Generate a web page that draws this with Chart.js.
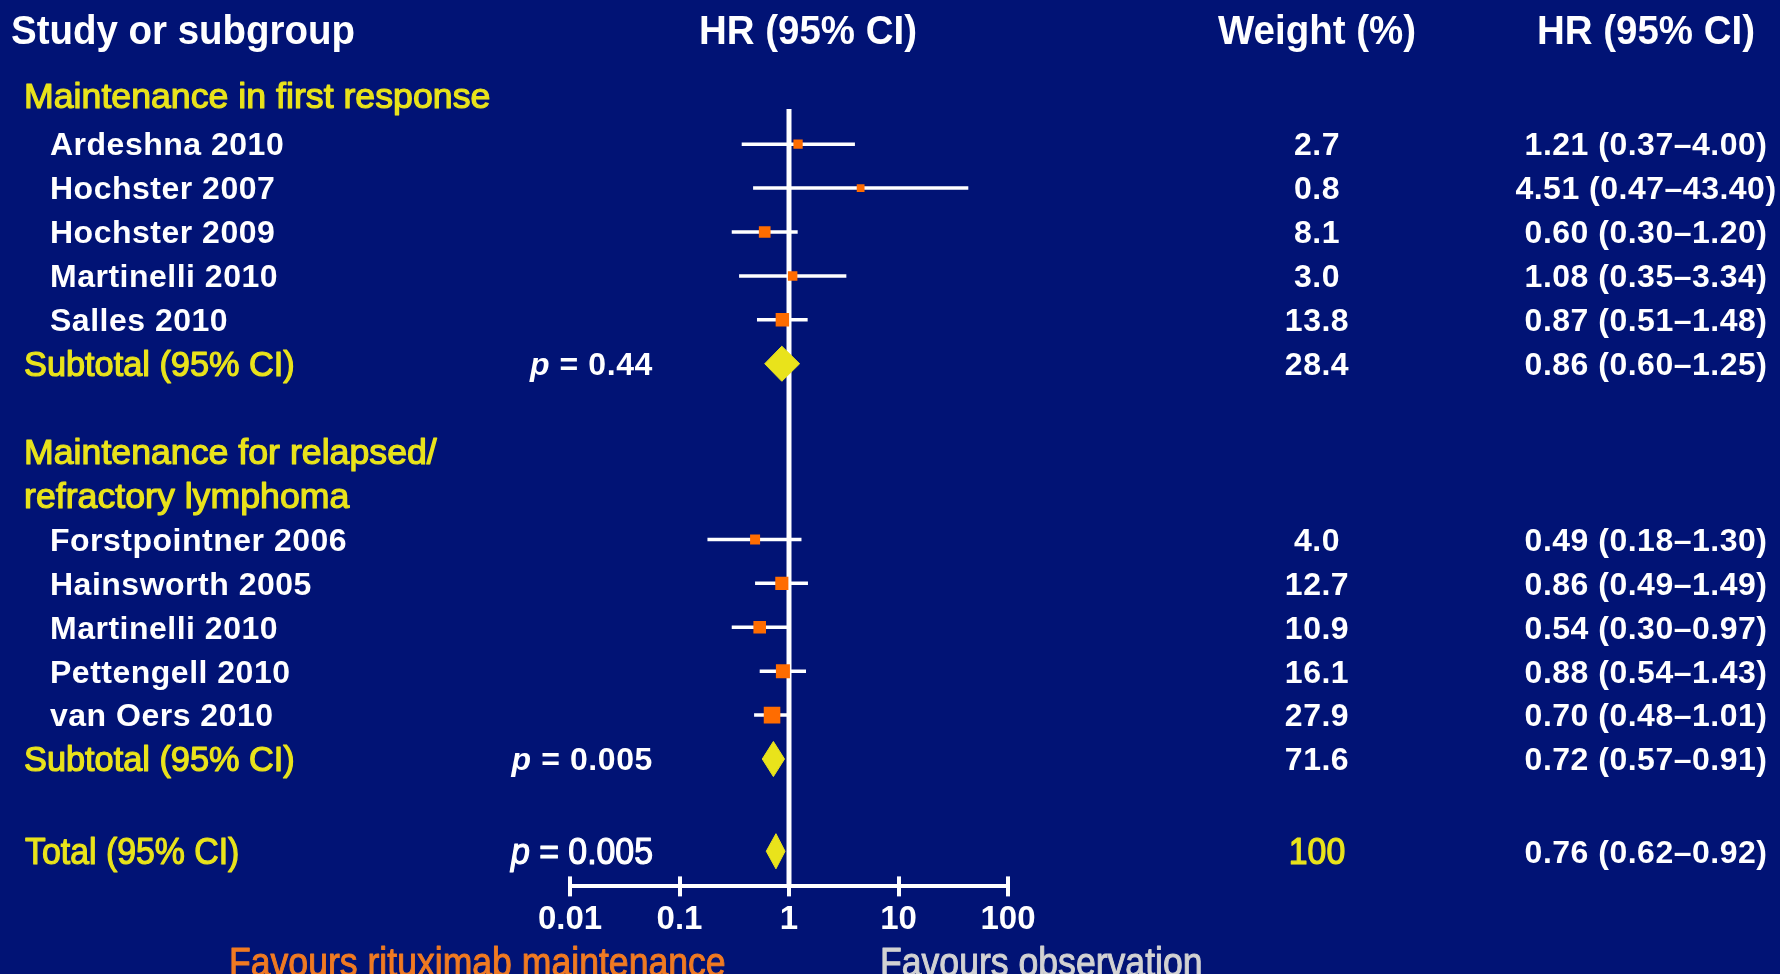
<!DOCTYPE html>
<html><head><meta charset="utf-8">
<script src="https://cdn.jsdelivr.net/npm/chart.js@4.4.1/dist/chart.umd.min.js"></script>
<style>html,body{margin:0;padding:0;background:#011375;}canvas{display:block}</style>
</head><body>
<canvas id="c" width="1780" height="974"></canvas>
<script>
// ---------- DATA ----------
const studies = ['Ardeshna 2010','Hochster 2007','Hochster 2009','Martinelli 2010','Salles 2010',
                 'Forstpointner 2006','Hainsworth 2005','Martinelli 2010','Pettengell 2010','van Oers 2010'];
const studyGroup = [0,0,0,0,0,1,1,1,1,1];
const hr      = [1.21, 4.51, 0.60, 1.08, 0.87, 0.49, 0.86, 0.54, 0.88, 0.70];
const ciLow   = [0.37, 0.47, 0.30, 0.35, 0.51, 0.18, 0.49, 0.30, 0.54, 0.48];
const ciHigh  = [4.00, 43.40, 1.20, 3.34, 1.48, 1.30, 1.49, 0.97, 1.43, 1.01];
const weights = [2.7, 0.8, 8.1, 3.0, 13.8, 4.0, 12.7, 10.9, 16.1, 27.9];
const hrText  = ['1.21 (0.37–4.00)','4.51 (0.47–43.40)','0.60 (0.30–1.20)','1.08 (0.35–3.34)','0.87 (0.51–1.48)',
                 '0.49 (0.18–1.30)','0.86 (0.49–1.49)','0.54 (0.30–0.97)','0.88 (0.54–1.43)','0.70 (0.48–1.01)'];
const weightText = ['2.7','0.8','8.1','3.0','13.8','4.0','12.7','10.9','16.1','27.9'];

const groupNames = [['Maintenance in first response'], ['Maintenance for relapsed/','refractory lymphoma']];
const subtotalHR = [0.86, 0.72];
const subtotalLow = [0.60, 0.57];
const subtotalHigh = [1.25, 0.91];
const subtotalWeightText = ['28.4','71.6'];
const subtotalHRText = ['0.86 (0.60–1.25)','0.72 (0.57–0.91)'];
const subtotalP = ['0.44','0.005'];

const totalHR = 0.76, totalLow = 0.62, totalHigh = 0.92;
const totalWeightText = '100';
const totalHRText = '0.76 (0.62–0.92)';
const totalP = '0.005';

const tickValues = [0.01, 0.1, 1, 10, 100];
const tickLabels = ['0.01','0.1','1','10','100'];

const headers = ['Study or subgroup','HR (95% CI)','Weight (%)','HR (95% CI)'];
const favoursLeft = 'Favours rituximab maintenance';
const favoursRight = 'Favours observation';

// ---------- ROW LAYOUT (row order, each row one unit tall) ----------
const rows = [];
groupNames.forEach((g, gi) => {
  g.forEach(t => rows.push({kind:'group', text:t}));
  studies.forEach((s, i) => { if (studyGroup[i] === gi) rows.push({kind:'study', i}); });
  rows.push({kind:'subtotal', g:gi});
  rows.push({kind:'blank', h: gi === groupNames.length - 1 ? 1.1 : 1});
});
rows.push({kind:'total'});
let acc = 0;
rows.forEach(r => { r.pos = acc; acc += (r.h || 1); });
const posOf = (pred) => rows.find(pred).pos;

const Y_MIN = 0.2, Y_MAX = 17.9;

// ---------- STYLES ----------
const FONT = '"Liberation Sans", Arial, sans-serif';
const YELLOW = '#e9e31b';
const ORANGE = '#ff6c00';
const ST = {
  header:  {size:41, weight:'bold',   color:'#ffffff', sx:0.938, ls:0},
  group:   {size:35, weight:'normal', color:YELLOW,    sx:1.02,  ls:0, stroke:1.2},
  subtot:  {size:35, weight:'normal', color:YELLOW,    sx:0.98,  ls:0, stroke:1.2},
  study:   {size:32, weight:'bold',   color:'#ffffff', sx:1.0,   ls:0.5},
  num:     {size:32, weight:'bold',   color:'#ffffff', sx:1.0,   ls:0.5},
  pval:    {size:32, weight:'bold',   color:'#ffffff', sx:1.0,   ls:0.6},
  totalY:  {size:36, weight:'normal', color:YELLOW,    sx:0.94,  ls:0, stroke:1.2},
  totalP:  {size:36, weight:'normal', color:'#ffffff', sx:0.94,  ls:0, stroke:1.2},
  favL:    {size:40, weight:'normal', color:'#f07a22', sx:0.89,  ls:0, stroke:1.0},
  favR:    {size:40, weight:'normal', color:'#d2d2d2', sx:0.89,  ls:0, stroke:1.0}
};
const TEXT_DY = 2.5; // optical vertical centring of row text

function fontStr(st, italic){ return (italic?'italic ':'') + st.weight + ' ' + st.size + 'px ' + FONT; }
function drawSegs(ctx, segs, x, y, st, align){
  ctx.save();
  try { ctx.letterSpacing = (st.ls||0) + 'px'; } catch(e){}
  const widths = segs.map(s => { ctx.font = fontStr(st, s.italic); return ctx.measureText(s.t).width; });
  const W = widths.reduce((a,b)=>a+b,0) * st.sx;
  const x0 = align === 'center' ? x - W/2 : align === 'right' ? x - W : x;
  ctx.translate(x0, y);
  ctx.scale(st.sx, 1);
  ctx.textAlign = 'left';
  ctx.textBaseline = 'middle';
  ctx.fillStyle = st.color;
  ctx.strokeStyle = st.color;
  ctx.lineJoin = 'round';
  let cx = 0;
  segs.forEach((s, k) => {
    ctx.font = fontStr(st, s.italic);
    ctx.fillText(s.t, cx, 0);
    if (st.stroke) { ctx.lineWidth = st.stroke; ctx.strokeText(s.t, cx, 0); }
    cx += widths[k];
  });
  ctx.restore();
}
const txt = (ctx, t, x, y, st, align) => drawSegs(ctx, [{t}], x, y, st, align);
const pSegs = (v) => [{t:'p', italic:true}, {t:' = ' + v}];

// column positions (layout)
const COL_GROUP_X = 24, COL_STUDY_X = 50, COL_P_RIGHT = 653, COL_W_C = 1317, COL_HR_C = 1646;

const textPlugin = {
  id:'forestText',
  afterDraw(chart){
    const ctx = chart.ctx;
    const ys = chart.scales.y, xs = chart.scales.x;
    txt(ctx, headers[0], 11, 33, ST.header, 'left');
    txt(ctx, headers[1], 808, 33, ST.header, 'center');
    txt(ctx, headers[2], COL_W_C, 33, ST.header, 'center');
    txt(ctx, headers[3], COL_HR_C, 33, ST.header, 'center');
    rows.forEach((r, idx) => {
      const y = ys.getPixelForValue(r.pos) + (idx === 0 ? -1.5 : TEXT_DY);
      if (r.kind === 'group') txt(ctx, r.text, COL_GROUP_X, y, ST.group, 'left');
      else if (r.kind === 'study') {
        txt(ctx, studies[r.i], COL_STUDY_X, y, ST.study, 'left');
        txt(ctx, weightText[r.i], COL_W_C, y, ST.num, 'center');
        txt(ctx, hrText[r.i], COL_HR_C, y, ST.num, 'center');
      } else if (r.kind === 'subtotal') {
        txt(ctx, 'Subtotal (95% CI)', COL_GROUP_X, y, ST.subtot, 'left');
        drawSegs(ctx, pSegs(subtotalP[r.g]), COL_P_RIGHT, y, ST.pval, 'right');
        txt(ctx, subtotalWeightText[r.g], COL_W_C, y, ST.num, 'center');
        txt(ctx, subtotalHRText[r.g], COL_HR_C, y, ST.num, 'center');
      } else if (r.kind === 'total') {
        txt(ctx, 'Total (95% CI)', COL_GROUP_X + 1, y, ST.totalY, 'left');
        drawSegs(ctx, pSegs(totalP), COL_P_RIGHT, y, ST.totalP, 'right');
        txt(ctx, totalWeightText, COL_W_C, y, ST.totalY, 'center');
        txt(ctx, totalHRText, COL_HR_C, y, ST.num, 'center');
      }
    });
    const ay = chart.chartArea.bottom;
    ctx.save();
    ctx.strokeStyle = '#ffffff'; ctx.lineWidth = 4;
    tickValues.forEach(v => {
      const px = Math.round(xs.getPixelForValue(v));
      ctx.beginPath(); ctx.moveTo(px, ay - 10); ctx.lineTo(px, ay); ctx.stroke();
    });
    ctx.restore();
    txt(ctx, favoursLeft, 229, 965, ST.favL, 'left');
    txt(ctx, favoursRight, 880, 965, ST.favR, 'left');
  }
};

// ---------- DATASETS ----------
const datasets = [];
studies.forEach((s, i) => {
  const y = posOf(r => r.kind === 'study' && r.i === i);
  datasets.push({type:'line', data:[{x:ciLow[i], y},{x:ciHigh[i], y}], borderColor:'#ffffff', borderWidth:3.5,
    pointRadius:0, fill:false, order:3, tension:0});
});
datasets.push({type:'line', data:[{x:1, y:Y_MIN},{x:1, y:Y_MAX}], borderColor:'#ffffff', borderWidth:5,
  pointRadius:0, fill:false, order:2});
const sqData = studies.map((s, i) => ({x:hr[i], y:posOf(r => r.kind === 'study' && r.i === i)}));
datasets.push({type:'scatter', data:sqData, pointStyle:'rect',
  pointRadius: weights.map(w => (6 + 2*Math.sqrt(w)) / 1.414),
  backgroundColor:ORANGE, borderColor:ORANGE, borderWidth:0, order:0});
function diamond(h, lo, hi, y){
  return {type:'line', data:[{x:lo,y},{x:h,y:y-0.4},{x:hi,y},{x:h,y:y+0.4},{x:lo,y}],
    borderColor:YELLOW, borderWidth:1, backgroundColor:YELLOW, fill:'shape', pointRadius:0, tension:0, order:0};
}
subtotalHR.forEach((h, g) => datasets.push(diamond(h, subtotalLow[g], subtotalHigh[g], posOf(r => r.kind === 'subtotal' && r.g === g))));
datasets.push(diamond(totalHR, totalLow, totalHigh, posOf(r => r.kind === 'total')));

new Chart(document.getElementById('c'), {
  type:'scatter',
  data:{datasets},
  plugins:[textPlugin],
  options:{
    responsive:false, animation:false, devicePixelRatio:1, events:[],
    layout:{padding:{top:109, bottom:30, left:570, right:772}},
    plugins:{legend:{display:false}, tooltip:{enabled:false}},
    scales:{
      x:{type:'logarithmic', min:0.01, max:100, position:'bottom',
        border:{display:true, color:'#ffffff', width:4},
        grid:{display:true, drawOnChartArea:false, drawTicks:true, tickLength:10, color:'#ffffff', lineWidth:4},
        afterBuildTicks:(axis) => { axis.ticks = tickValues.map(v => ({value:v})); },
        ticks:{color:'#ffffff', autoSkip:false, maxRotation:0, padding:4,
          font:{family:FONT, size:33, weight:'bold'},
          callback:(v) => { const k = tickValues.indexOf(v); return k >= 0 ? tickLabels[k] : ''; }}
      },
      y:{type:'linear', reverse:true, min:Y_MIN, max:Y_MAX, display:false}
    }
  }
});
</script>
</body></html>
